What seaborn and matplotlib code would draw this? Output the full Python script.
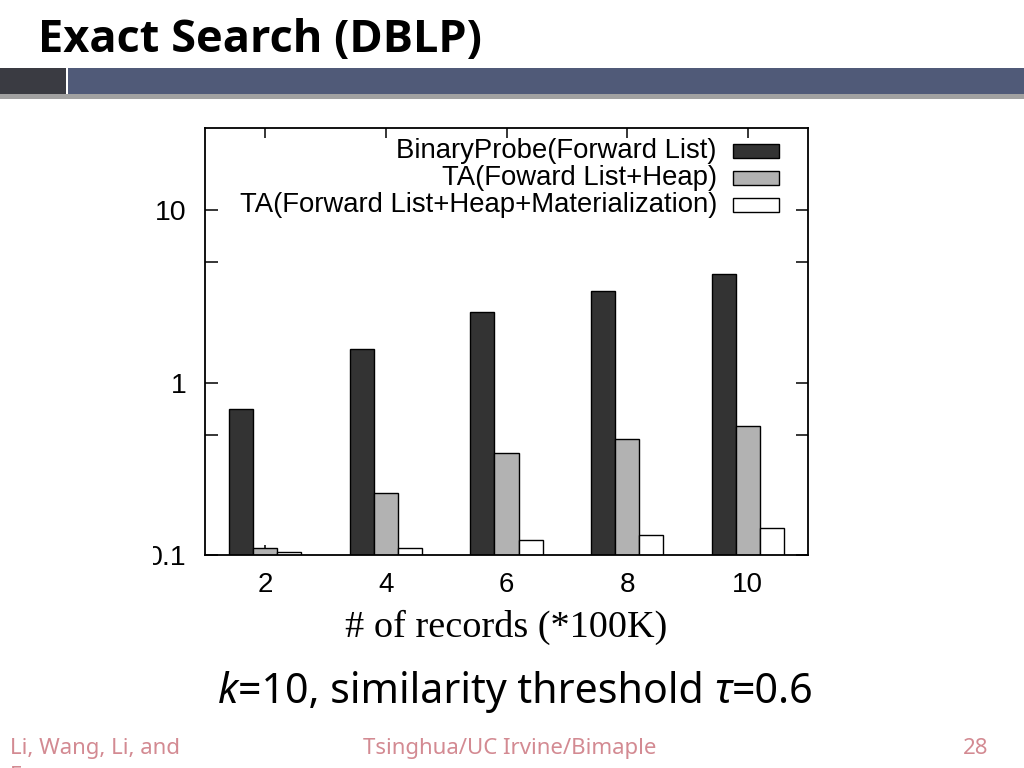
import matplotlib
matplotlib.use("Agg")
import matplotlib.pyplot as plt
from matplotlib.patches import Rectangle
from matplotlib.transforms import Bbox
import seaborn as sns
import pandas as pd

# ---- data ----
records = ["2", "4", "6", "8", "10"]
series_names = ["BinaryProbe(Forward List)",
                "TA(Foward List+Heap)",
                "TA(Forward List+Heap+Materialization)"]
binary_probe = [0.70, 1.57, 2.58, 3.40, 4.25]
ta_heap = [0.110, 0.230, 0.393, 0.474, 0.560]
ta_heap_mat = [0.104, 0.110, 0.122, 0.130, 0.1425]
colors = ["#333333", "#b2b2b2", "#ffffff"]
y_ticks = [0.1, 1, 10]
y_ticklabels = ["0.1", "1", "10"]
y_minor = [0.5, 5]

df = pd.DataFrame({
    "records": records * 3,
    "series": [series_names[0]] * 5 + [series_names[1]] * 5 + [series_names[2]] * 5,
    "time": binary_probe + ta_heap + ta_heap_mat,
})

sns.set_theme(style="white")
W, H = 1024, 768
fig = plt.figure(figsize=(W / 100, H / 100), dpi=100)
fig.patch.set_facecolor("white")

def fx(x):
    return x / W

def fy(y):
    return 1 - y / H

# ---- slide decoration ----
fig.patches.append(Rectangle((0, fy(94)), fx(66), (94 - 68) / H, transform=fig.transFigure,
                             facecolor="#3a3b42", edgecolor="none", zorder=0))
fig.patches.append(Rectangle((fx(68), fy(94)), 1 - fx(68), (94 - 68) / H, transform=fig.transFigure,
                             facecolor="#505a78", edgecolor="none", zorder=0))
fig.patches.append(Rectangle((0, fy(99)), 1, 5 / H, transform=fig.transFigure,
                             facecolor="#8a8a8a", edgecolor="none", zorder=0, alpha=0.8))
# white chart image background
fig.patches.append(Rectangle((fx(153), fy(650)), fx(818 - 153), (650 - 99) / H, transform=fig.transFigure,
                             facecolor="white", edgecolor="none", zorder=1))

fig.text(fx(38), fy(52), "Exact Search (DBLP)", fontsize=32.5, fontweight="bold",
         family="Open Sans", ha="left", va="baseline", color="black")

# ---- chart ----
ax = fig.add_axes([fx(205), fy(555), fx(808 - 205), (555 - 128) / H])
ax.set_zorder(3)
ax.set_yscale("log")
sns.barplot(data=df, x="records", y="time", hue="series", palette=colors,
            width=0.6, edgecolor="black", linewidth=1.0, saturation=1,
            legend=False, ax=ax, zorder=2)
ax.set_ylim(0.1, 30)
ax.set_xlim(-0.5, 4.5)
ax.set_yticks(y_ticks)
ax.set_yticklabels(y_ticklabels)
ax.set_yticks(y_minor, minor=True)
ax.yaxis.set_minor_formatter(matplotlib.ticker.NullFormatter())
ax.set_ylabel("")
ax.set_xlabel("# of records (*100K)", family="Liberation Serif", fontsize=27.5,
              labelpad=9, color="black")
for s in ax.spines.values():
    s.set_visible(True)
    s.set_color("black")
    s.set_linewidth(1.3)
ax.tick_params(axis="y", which="both", direction="in", left=True, right=True, length=9,
               width=1.1, labelsize=20.5, pad=13, colors="black")
ax.tick_params(axis="x", which="both", direction="in", bottom=True, top=True, length=7,
               width=1.1, labelsize=20, pad=12, colors="black")
for lbl in ax.get_xticklabels() + ax.get_yticklabels():
    lbl.set_family("Liberation Sans")

# clip tick labels to chart image region
clip = Bbox.from_extents(153, H - 650, 818, H - 99)
for t in ax.yaxis.get_major_ticks():
    t.label1.set_clip_on(True)
    t.label1.set_clip_box(clip)

# legend (gnuplot style: text right-aligned, swatch to the right)
ax_w = 808 - 205
ax_h = 555 - 128
for i, (name, c) in enumerate(zip(series_names, colors)):
    yc = [151, 178, 205][i]
    ya = 1 - (yc - 128) / ax_h
    ax.text((717 - 205) / ax_w, ya, name, transform=ax.transAxes, ha="right", va="center",
            fontsize=19.8, family="Liberation Sans", color="black", zorder=5)
    ax.add_patch(Rectangle(((733 - 205) / ax_w, ya - 7 / ax_h), 46 / ax_w, 14 / ax_h,
                           transform=ax.transAxes, facecolor=c, edgecolor="black",
                           linewidth=1.0, zorder=5, clip_on=False))

# ---- caption (mixed italic) ----
fig.canvas.draw()
renderer = fig.canvas.get_renderer()
pieces = [("k", "italic"), ("=10, similarity threshold ", "normal"), ("τ", "italic"), ("=0.6", "normal")]
x = 218
for s, st in pieces:
    t = fig.text(fx(x), fy(703), s, fontsize=29.6, family="Noto Sans", style=st,
                 ha="left", va="baseline", color="black")
    bb = t.get_window_extent(renderer)
    x += bb.width

# ---- footer ----
foot_col = "#d38a92"
fig.text(fx(10), fy(754), "Li, Wang, Li, and", fontsize=16, family="Noto Sans",
         color=foot_col, ha="left", va="baseline")
fig.text(fx(10), fy(782), "Feng", fontsize=16, family="Noto Sans",
         color=foot_col, ha="left", va="baseline")
fig.text(fx(510), fy(754), "Tsinghua/UC Irvine/Bimaple", fontsize=16, family="Noto Sans",
         color=foot_col, ha="center", va="baseline")
fig.text(fx(988), fy(754), "28", fontsize=16, family="Noto Sans",
         color=foot_col, ha="right", va="baseline")

fig.savefig("out.png", dpi=100)
